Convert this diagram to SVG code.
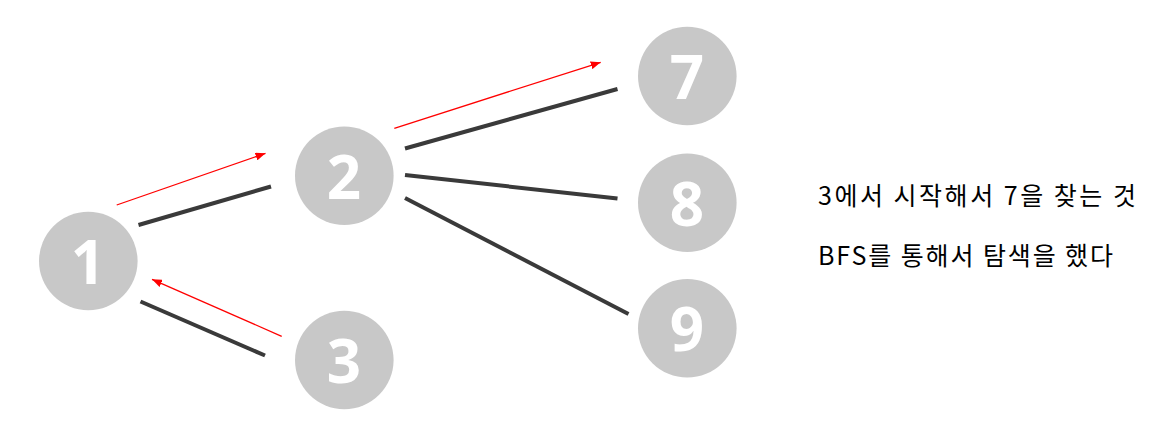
<svg xmlns="http://www.w3.org/2000/svg" width="1176" height="438" viewBox="0 0 1176 438">
<style>
.node circle{fill:#c8c8c8}
.node text{fill:#fff;font-family:"Open Sans","Noto Sans",sans-serif;font-weight:700;font-size:60px;text-anchor:middle}
.edge{stroke:#3a3a3a;stroke-width:4;fill:none}
.trace{stroke:#ff0000;stroke-width:1.3;fill:none;marker-end:url(#ah)}
.note{font-family:"Noto Sans CJK KR","Noto Sans",sans-serif;font-size:25px;fill:#000}
</style>
<defs>
<marker id="ah" viewBox="0 0 10 8" refX="10" refY="4" markerWidth="10" markerHeight="8" markerUnits="userSpaceOnUse" orient="auto">
<path d="M0,0 L10,4 L0,8 Z" fill="#ff0000"/>
</marker>
</defs>
<g id="connectors">
<line class="edge" x1="138.5" y1="225" x2="271" y2="186.5"/>
<line class="edge" x1="140.5" y1="301.5" x2="265" y2="355.5"/>
<line class="edge" x1="405" y1="148.5" x2="617.5" y2="89"/>
<line class="edge" x1="405" y1="175" x2="617.5" y2="198.5"/>
<line class="edge" x1="405" y1="198" x2="628.5" y2="314"/>
<line class="trace" x1="116.7" y1="205" x2="265.5" y2="153.3"/>
<line class="trace" x1="281.7" y1="336.3" x2="152" y2="279.3"/>
<line class="trace" x1="394.3" y1="128.3" x2="600.7" y2="62.3"/>
</g>
<g id="node1" class="node"><circle cx="88.3" cy="261" r="49.3"/><text x="88" y="284">1</text></g>
<g id="node2" class="node"><circle cx="344.3" cy="175.7" r="49.3"/><text x="344" y="198.7">2</text></g>
<g id="node3" class="node"><circle cx="344.3" cy="360" r="49.3"/><text x="344" y="383">3</text></g>
<g id="node7" class="node"><circle cx="687.3" cy="76" r="49.3"/><text x="687" y="99">7</text></g>
<g id="node8" class="node"><circle cx="687.3" cy="202.7" r="49.3"/><text x="687" y="225.7">8</text></g>
<g id="node9" class="node"><circle cx="687.3" cy="328.3" r="49.3"/><text x="687" y="351.3">9</text></g>
<g id="notes">
<text class="note" x="818" y="205" textLength="318" lengthAdjust="spacing">3에서 시작해서 7을 찾는 것</text>
<text class="note" x="818" y="265" textLength="295" lengthAdjust="spacing">BFS를 통해서 탐색을 했다</text>
</g>
</svg>
